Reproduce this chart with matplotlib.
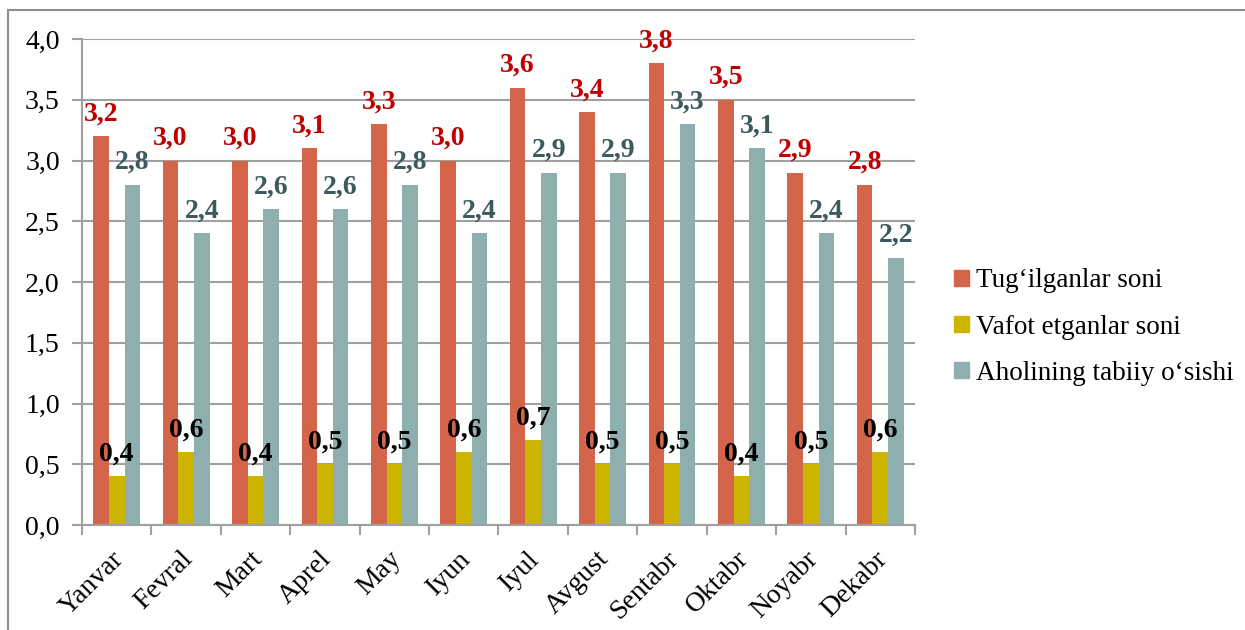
import matplotlib
matplotlib.use("Agg")
import matplotlib.pyplot as plt
import matplotlib.transforms as mtransforms
import numpy as np
from matplotlib.lines import Line2D

months = ["Yanvar", "Fevral", "Mart", "Aprel", "May", "Iyun", "Iyul",
          "Avgust", "Sentabr", "Oktabr", "Noyabr", "Dekabr"]
births = [3.2, 3.0, 3.0, 3.1, 3.3, 3.0, 3.6, 3.4, 3.8, 3.5, 2.9, 2.8]
deaths = [0.4, 0.6, 0.4, 0.5, 0.5, 0.6, 0.7, 0.5, 0.5, 0.4, 0.5, 0.6]
growth = [2.8, 2.4, 2.6, 2.6, 2.8, 2.4, 2.9, 2.9, 3.3, 3.1, 2.4, 2.2]
series_names = ["Tug\u2018ilganlar soni", "Vafot etganlar soni", "Aholining tabiiy o\u2018sishi"]
yticks = [0.0, 0.5, 1.0, 1.5, 2.0, 2.5, 3.0, 3.5, 4.0]

colors = ["#D4654B", "#CDB400", "#8DAFAF"]
label_colors = ["#C00000", "#000000", "#3D5A5A"]

plt.rcParams['font.family'] = ['Liberation Serif', 'DejaVu Serif']

fig = plt.figure(figsize=(12.45, 6.30), dpi=100)
ax = fig.add_axes([82/1245, 1 - 525/630, (915-82)/1245, (525-39)/630])

x = np.arange(len(months))
w = 0.225
data = [births, deaths, growth]
for i, (vals, c, lc, name) in enumerate(zip(data, colors, label_colors, series_names)):
    pos = x + (i - 1) * w
    ax.bar(pos, vals, width=w, color=c, label=name, edgecolor='none')
    for p, v in zip(pos, vals):
        ax.annotate(f"{v:.1f}".replace(".", ","), (p, v), xytext=(0, 7),
                    textcoords="offset points", ha="center", va="bottom",
                    fontsize=20, fontweight="bold", color=lc)

ax.set_xlim(-0.5, len(months) - 0.5)
ax.set_ylim(0, 4.0)
ax.set_yticks(yticks)
ax.set_yticklabels([f"{t:.1f}".replace(".", ",") for t in yticks], fontsize=20)
ax.yaxis.grid(True, color="#A0A0A0", linewidth=1.5)
ax.set_axisbelow(True)

ax.set_xticks(np.arange(len(months) + 1) - 0.5, minor=False)
ax.set_xticklabels([])
ax.set_xticks(x, minor=True)
ax.set_xticklabels(months, minor=True, rotation=45, ha="right",
                   rotation_mode="anchor", fontsize=20)
ax.tick_params(axis="x", which="minor", length=0, pad=9)
ax.tick_params(axis="x", which="major", length=7, width=1.5, color="#A0A0A0")
ax.tick_params(axis="y", length=7, width=1.5, color="#A0A0A0", pad=9)

offset = mtransforms.ScaledTranslation(-6/100, -9/100, fig.dpi_scale_trans)
for lab in ax.xaxis.get_minorticklabels():
    lab.set_transform(lab.get_transform() + offset)

for s in ["top", "right"]:
    ax.spines[s].set_visible(False)
for s in ["left", "bottom"]:
    ax.spines[s].set_color("#A0A0A0")
    ax.spines[s].set_linewidth(1.5)

handles = [plt.Rectangle((0, 0), 1, 1, color=c) for c in colors]
fig.legend(handles, series_names, loc="center left",
           bbox_to_anchor=(930/1245, 1 - 327/630), frameon=False,
           fontsize=19.5, handlelength=0.55, handleheight=0.55,
           handletextpad=0.25, labelspacing=0.78)

# outer frame (top and left edges)
fig.add_artist(Line2D([8/1245, 1.0], [1 - 10/630, 1 - 10/630],
                      transform=fig.transFigure, color="#8C8C8C", linewidth=1.5))
fig.add_artist(Line2D([8/1245, 8/1245], [0.0, 1 - 10/630],
                      transform=fig.transFigure, color="#8C8C8C", linewidth=1.5))

fig.savefig("out.png", dpi=100)
